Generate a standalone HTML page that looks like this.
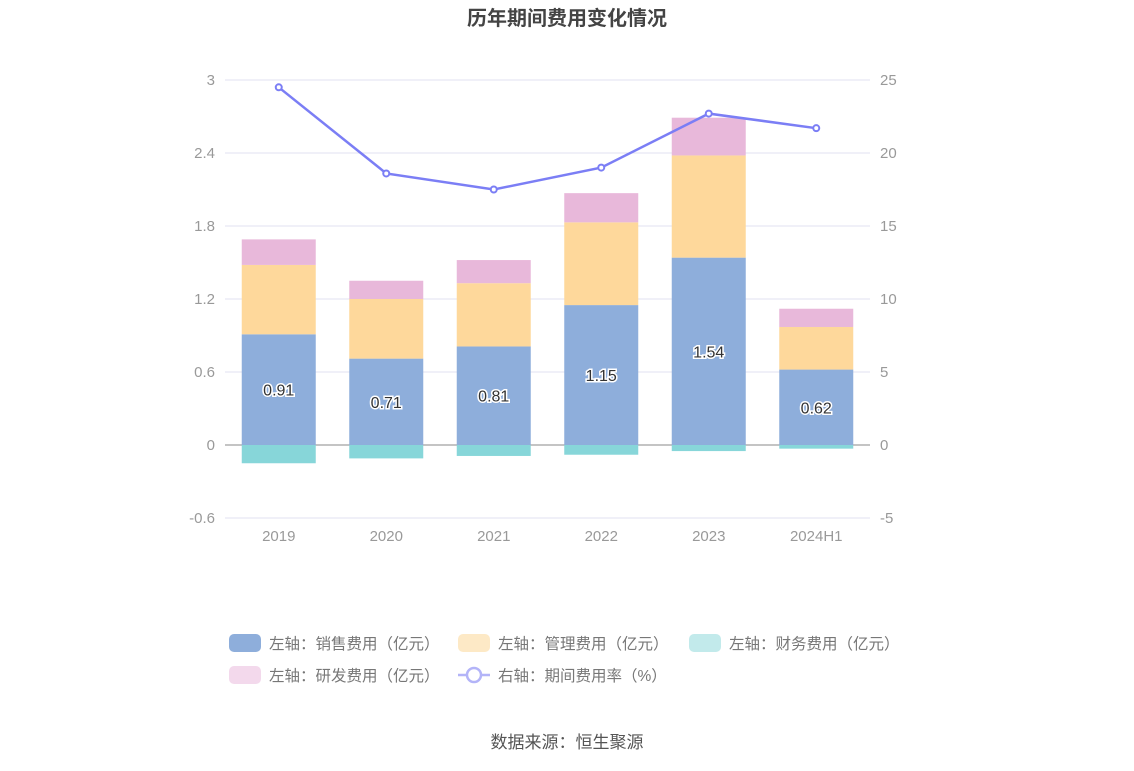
<!DOCTYPE html>
<html><head><meta charset="utf-8"><style>
body{margin:0;background:#fff;font-family:"Liberation Sans","Noto Sans CJK SC",sans-serif;}
svg text{font-family:"Liberation Sans","Noto Sans CJK SC",sans-serif;}
</style></head><body>
<svg id="c" width="1134" height="766" xmlns="http://www.w3.org/2000/svg">
<text x="567" y="25" text-anchor="middle" font-size="20" font-weight="bold" fill="#444">历年期间费用变化情况</text>
<g id="grid"></g><g id="bars"></g><g id="line"></g><g id="axes"></g>
<g id="legend"></g>
<text x="567" y="748" text-anchor="middle" font-size="17" fill="#555">数据来源：恒生聚源</text>
</svg>
<script>
const categories=["2019","2020","2021","2022","2023","2024H1"];
const sales=[0.91,0.71,0.81,1.15,1.54,0.62];
const mgmt=[0.57,0.49,0.52,0.68,0.84,0.35];
const finance=[-0.15,-0.11,-0.09,-0.08,-0.05,-0.03];
const rd=[0.21,0.15,0.19,0.24,0.31,0.15];
const rate=[24.5,18.6,17.5,19.0,22.7,21.7];
const leftTicks=[-0.6,0,0.6,1.2,1.8,2.4,3];
const rightTicks=[-5,0,5,10,15,20,25];
const NS="http://www.w3.org/2000/svg";
function mk(t,a,p){const e=document.createElementNS(NS,t);for(const k in a)e.setAttribute(k,a[k]);p.appendChild(e);return e;}
const x0=225,x1=870,yTop=80,yBot=518;
const yL=v=>yBot-(v+0.6)/3.6*(yBot-yTop);
const yR=v=>yBot-(v+5)/30*(yBot-yTop);
const bw=(x1-x0)/categories.length;
const xc=i=>x0+bw*(i+0.5);
const G=document.getElementById('grid'),B=document.getElementById('bars'),L=document.getElementById('line'),A=document.getElementById('axes');
leftTicks.forEach((t,i)=>{
 const y=yL(t);
 const g=mk('line',{x1:x0,x2:x1,y1:y,y2:y,stroke:t===0?'#888':'#e0e0f0','stroke-width':1},G);
 
 
 const lt=mk('text',{x:215,y:y+5,'text-anchor':'end','font-size':15,fill:'#999'},A);lt.textContent=t;
 
 
 const rt=mk('text',{x:880,y:yR(rightTicks[i])+5,'font-size':15,fill:'#999'},A);rt.textContent=rightTicks[i];
 
 
});
categories.forEach((c,i)=>{
 const t=mk('text',{x:xc(i),y:541,'text-anchor':'middle','font-size':15,fill:'#999'},A);t.textContent=c;
 
 
 const w=74,x=xc(i)-w/2;
 let base=0;
 [[sales,'#8eaedb','bar-sales'],[mgmt,'#fed89b','bar-mgmt'],[rd,'#e8b8da','bar-rd']].forEach(([arr,col,nm])=>{
  const r=mk('rect',{x:x,y:yL(base+arr[i]),width:w,height:yL(base)-yL(base+arr[i]),fill:col},B);
  
  
  base+=arr[i];
 });
 const f=mk('rect',{x:x,y:yL(0),width:w,height:yL(finance[i])-yL(0),fill:'#87d6d9'},B);
 
 
 const v=mk('text',{x:xc(i),y:yL(sales[i]/2)+6,'text-anchor':'middle','font-size':16,fill:'#333',stroke:'#fff','stroke-width':3,'paint-order':'stroke'},B);
 v.textContent=sales[i].toFixed(2);
 
 
});
const pl=mk('polyline',{points:rate.map((v,i)=>xc(i)+','+yR(v)).join(' '),fill:'none',stroke:'#7b7ef5','stroke-width':2.5},L);


rate.forEach((v,i)=>{
 const p=mk('circle',{cx:xc(i),cy:yR(v),r:3,fill:'#fff',stroke:'#7b7ef5','stroke-width':2},L);
 
 
});
const Lg=document.getElementById('legend');
const items=[['左轴：销售费用（亿元）','#8eaedb',229,643,'rect'],['左轴：管理费用（亿元）','#fde9c6',458,643,'rect'],['左轴：财务费用（亿元）','#c2eaeb',689,643,'rect'],['左轴：研发费用（亿元）','#f3d9ec',229,675,'rect'],['右轴：期间费用率（%）','#b3b4f8',458,675,'line']];
items.forEach(([t,c,x,y,k])=>{
 const g=mk('g',{},Lg);
 
 
 if(k==='rect')mk('rect',{x:x,y:y-9,width:32,height:18,rx:5,fill:c},g);
 else{mk('line',{x1:x,x2:x+32,y1:y,y2:y,stroke:c,'stroke-width':2.5},g);mk('circle',{cx:x+16,cy:y,r:7,fill:'#fff',stroke:c,'stroke-width':2.5},g);}
 const tt=mk('text',{x:x+40,y:y+6,'font-size':15.5,fill:'#777'},g);tt.textContent=t;
});
</script>
</body></html>
